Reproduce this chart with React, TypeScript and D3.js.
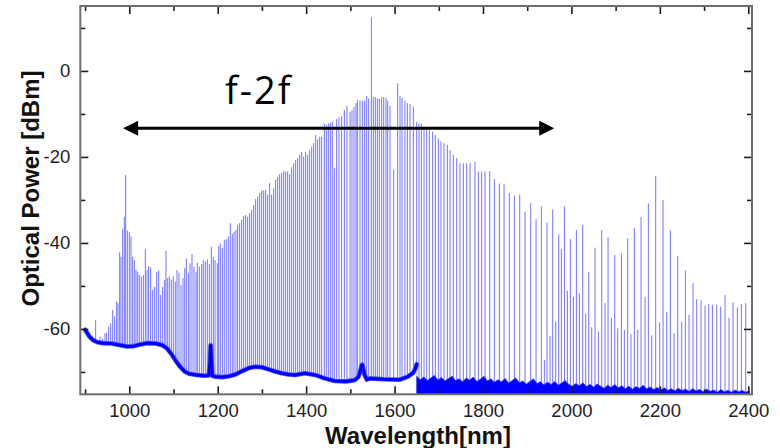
import React, { useEffect, useRef } from 'react';
import * as d3 from 'd3';

// Comb line wavelengths (nm) and their peak powers (dBm)
const combWavelength = [
  923.9, 933.7, 939.8, 945.1, 948.8, 953.3, 957.9, 962.4, 966.9, 971.4, 974.5, 978.2, 981.2, 985.0, 988.8, 991.8,
  995.6, 1000.1, 1003.9, 1007.6, 1011.4, 1015.2, 1019.0, 1022.7, 1027.2, 1031.8, 1036.3, 1040.1, 1043.8, 1048.3,
  1052.9, 1057.4, 1061.9, 1066.4, 1071.0, 1075.5, 1080.0, 1083.0, 1086.8, 1090.6, 1095.1, 1099.6, 1104.1, 1107.9,
  1112.4, 1117.0, 1121.5, 1125.3, 1129.0, 1133.6, 1137.3, 1141.8, 1146.4, 1150.9, 1153.9, 1158.4, 1163.7, 1167.5,
  1172.0, 1176.5, 1181.1, 1185.6, 1190.1, 1193.9, 1199.2, 1202.2,
  1205.9, 1210.4, 1214.9, 1219.4, 1224.0, 1228.5, 1233.0, 1236.8, 1241.3, 1245.1, 1249.6, 1254.1, 1258.6, 1263.2,
  1267.7, 1272.2, 1276.7, 1281.3, 1285.8, 1290.3, 1294.8, 1299.4, 1303.9, 1308.4, 1312.9, 1317.5, 1322.0, 1326.5,
  1331.0, 1335.6, 1340.1, 1344.6, 1349.1, 1353.6, 1358.2, 1362.7, 1367.2, 1371.7, 1376.3, 1380.8, 1385.3, 1389.8,
  1394.4, 1398.9, 1403.4, 1407.9, 1412.5, 1417.0, 1421.5, 1426.0, 1430.6, 1435.1, 1441.1, 1445.6, 1450.2, 1454.7,
  1459.2, 1463.7, 1469.0, 1474.3, 1480.3, 1486.4, 1492.4,
  1499.2, 1503.7, 1508.2, 1512.8, 1515.8, 1521.8, 1527.1, 1532.4, 1536.9, 1541.4, 1547.5, 1552.0, 1556.5, 1561.0,
  1565.5, 1570.8, 1575.4, 1580.6, 1584.4, 1589.7, 1598.0, 1607.0, 1612.3, 1616.8, 1623.6, 1628.9, 1634.9, 1642.5,
  1650.0, 1655.3, 1660.6, 1666.6, 1672.6, 1678.7, 1686.2, 1692.2, 1699.0, 1705.0, 1711.8, 1719.4, 1725.4, 1732.9,
  1740.5, 1748.0, 1755.6, 1763.1, 1770.6, 1782.0, 1789.5, 1797.0,
  1804.6, 1815.2, 1825.7, 1837.0, 1847.6, 1859.6, 1871.0, 1883.0, 1895.1, 1907.9, 1920.0, 1932.0, 1938.8, 1944.8,
  1951.6, 1957.7, 1964.4, 1971.2, 1977.3, 1984.1, 1990.8, 1997.6, 2004.4, 2011.2, 2018.0, 2025.5, 2032.3, 2039.1,
  2045.9, 2053.4, 2061.0, 2068.5, 2076.0, 2082.8, 2090.4, 2097.9, 2104.7, 2113.0,
  2119.7, 2127.3, 2134.8, 2142.3, 2149.9, 2157.4, 2166.5, 2174.0, 2181.5, 2190.6, 2199.6, 2207.2, 2215.5, 2223.8,
  2232.1, 2240.4, 2249.4, 2257.7, 2266.0, 2275.0, 2283.3, 2293.1, 2302.2, 2310.5, 2318.8, 2328.6, 2337.6, 2347.4,
  2356.5, 2365.5, 2375.3, 2384.4, 2394.2,
];
const combPower = [
  -57.9, -61.8, -62.2, -61.0, -60.9, -59.5, -58.7, -55.6, -57.1, -53.6, -54.0, -42.2, -43.2, -36.8, -33.9, -24.2,
  -37.1, -37.4, -38.5, -43.2, -44.0, -46.3, -46.7, -47.4, -47.8, -47.4, -41.5, -46.3, -45.4, -45.7,
  -50.9, -50.2, -46.7, -46.4, -52.1, -50.2, -48.6, -41.8, -48.2, -47.8, -48.5, -47.8, -49.0, -46.3,
  -46.9, -49.8, -48.2, -45.9, -43.6, -47.1, -44.7, -42.6, -45.5, -46.8, -44.6, -45.5, -44.9, -44.0,
  -44.3, -43.8, -44.9, -40.9, -43.3, -44.0, -44.7, -40.7,
  -40.1, -41.2, -39.3, -39.1, -38.5, -35.4, -37.9, -37.4, -37.0, -35.8, -35.4, -34.6, -33.7, -33.5,
  -33.9, -33.1, -32.3, -31.2, -29.8, -29.2, -28.4, -27.8, -27.8, -27.7, -28.8, -26.1, -28.8, -27.3,
  -25.3, -24.6, -24.0, -23.8, -23.4, -23.4, -23.4, -24.0, -22.4, -21.5, -20.7, -20.3, -19.5, -18.8,
  -19.9, -18.8, -19.5, -18.4, -17.6, -16.8, -14.9, -15.9, -15.3, -15.3, -12.2, -12.6, -12.2, -12.0,
  -11.8, -22.6, -11.2, -10.8, -10.5, -9.1, -8.1,
  -9.5, -9.1, -8.4, -7.5, -6.7, -6.9, -6.9, -6.9, -5.8, -6.4, 12.5, -6.0, -6.1, -6.4,
  -6.5, -6.1, -6.1, -6.2, -6.9, -8.1, -23.0, -2.9, -5.8, -6.3, -6.9, -7.5, -7.7, -8.3,
  -11.8, -12.2, -12.3, -13.0, -13.6, -13.7, -14.1, -14.9, -15.7, -16.4, -16.8, -17.2, -18.4, -19.5,
  -20.3, -21.5, -21.5, -21.5, -21.5, -21.1, -23.4, -23.4,
  -23.4, -23.3, -25.1, -26.2, -26.4, -28.4, -29.0, -28.8, -32.7, -30.8, -34.5, -31.5, -67.2, -35.3,
  -61.6, -32.2, -58.3, -38.0, -41.4, -31.5, -51.1, -39.1, -52.5, -37.0, -51.7, -35.8, -56.4, -46.8,
  -59.6, -41.1, -60.6, -37.0, -54.0, -38.7, -57.5, -42.8, -59.8, -42.4,
  -60.2, -38.9, -61.2, -36.6, -60.2, -34.0, -52.5, -30.8, -61.5, -24.4, -58.5, -30.0, -56.1, -37.1,
  -61.0, -43.0, -58.3, -46.4, -56.7, -49.4, -53.1, -53.3, -54.6, -54.2, -54.4, -54.4, -54.8, -52.1,
  -57.4, -53.8, -55.0, -54.2, -54.0,
];

// Noise floor of the first analyser (900-1650 nm)
const floorWavelength = [
  900, 904, 910, 918, 928, 940, 960, 980, 995, 1010, 1025, 1040, 1060, 1075, 1085, 1095, 1105, 1115, 1125, 1135,
  1152, 1170, 1180, 1182.5, 1184, 1185.5, 1188, 1195, 1210, 1225, 1240, 1255, 1270, 1285, 1300, 1315, 1330, 1345,
  1360, 1375, 1397, 1420, 1442, 1465, 1490, 1510, 1518, 1522, 1525, 1527, 1529, 1532, 1537, 1545, 1575, 1612,
  1630, 1642, 1647, 1650,
];
const floorPower = [
  -60.2, -60.8, -61.8, -62.6, -63.1, -63.3, -63.4, -63.8, -64.1, -64.0, -63.6, -63.3, -63.4, -63.8, -64.5, -65.8,
  -67.4, -68.8, -69.9, -70.4, -70.7, -70.9, -70.8, -67.5, -63.8, -66.5, -70.9, -71.1, -71.2, -71.0, -70.6, -69.8,
  -69.1, -68.8, -68.9, -69.4, -69.9, -70.3, -70.6, -70.7, -70.3, -70.7, -71.5, -72.1, -72.2, -71.9, -71.2, -70.0,
  -68.6, -68.3, -69.2, -70.6, -71.8, -71.5, -71.7, -71.8, -71.1, -70.2, -69.2, -68.2,
];

// Noise band of the second analyser (1650-2400 nm), top edge
const noiseWavelength = [
  1650, 1658, 1666, 1674, 1682, 1690, 1698, 1706, 1714, 1722, 1730, 1738, 1746, 1754, 1762, 1770, 1778, 1786,
  1794, 1802, 1810, 1818, 1826, 1834, 1842, 1850, 1858, 1866, 1874, 1882, 1890, 1898, 1906, 1914, 1922, 1930,
  1938, 1946, 1954, 1962, 1970, 1978, 1986, 1994, 2002, 2010, 2018, 2026, 2034, 2042, 2050, 2058, 2066, 2074,
  2082, 2090, 2098, 2106, 2114, 2122, 2130, 2138, 2146, 2154, 2162, 2170, 2178, 2186, 2194, 2202, 2210, 2218,
  2226, 2234, 2242, 2250, 2258, 2266, 2274, 2282, 2290, 2298, 2306, 2314, 2322, 2330, 2338, 2346, 2354, 2362,
  2370, 2378, 2386, 2394, 2402,
];
const noisePower = [
  -71.0, -71.8, -71.2, -72.0, -71.4, -70.8, -71.9, -71.3, -72.1, -71.5, -71.0, -72.0, -71.6, -72.3, -71.4, -71.9,
  -71.2, -72.2, -71.7, -71.0, -72.1, -71.6, -72.4, -71.8, -72.3, -71.5, -72.6, -72.0, -71.4, -72.5, -72.1, -72.8,
  -72.2, -71.6, -72.7, -72.3, -73.0, -72.4, -72.9, -72.2, -73.1, -72.6, -72.0, -72.9, -73.3, -72.7, -73.2, -72.5,
  -73.4, -72.9, -73.5, -72.8, -73.3, -73.8, -73.1, -73.6, -72.9, -73.7, -73.2, -73.9, -73.3, -74.0, -73.4, -73.8,
  -73.1, -73.9, -73.5, -74.1, -73.6, -74.2, -73.7, -74.3, -73.9, -74.4, -73.8, -74.3, -74.0, -74.5, -73.9, -74.4,
  -74.1, -74.6, -74.0, -74.5, -74.2, -74.7, -74.1, -74.6, -74.3, -74.7, -74.2, -74.6, -74.3, -74.7, -74.4,
];

const xMajorTicks = [1000, 1200, 1400, 1600, 1800, 2000, 2200, 2400];
const xMinorTicks = [900, 1100, 1300, 1500, 1700, 1900, 2100, 2300];
const yMajorTicks = [-60, -40, -20, 0];
const yMinorTicks = [-70, -50, -30, -10, 10];

const xTitle = 'Wavelength[nm]';
const yTitle = 'Optical Power [dBm]';
const annotationLabel = 'f-2f';
const arrowFromNm = 986;
const arrowToNm = 1961;
const arrowLevelDbm = -13.33;

export default function App() {
  const ref = useRef<SVGSVGElement>(null);

  useEffect(() => {
    const svg = d3.select(ref.current);
    svg.selectAll('*').remove();

    const L = 80.3, R = 752, T = 6, B = 394.3;
    const x = d3.scaleLinear().domain([889.2, 2408.4]).range([L, R]);
    const y = d3.scaleLinear().domain([-75.2, 15.1]).range([B, T]);

    svg.append('rect').attr('width', 780).attr('height', 448).attr('fill', '#ffffff');

    svg.append('defs').append('clipPath').attr('id', 'plotClip')
      .append('rect').attr('x', L).attr('y', T).attr('width', R - L).attr('height', B - T);

    const plot = svg.append('g').attr('clip-path', 'url(#plotClip)');

    // comb lines
    plot.append('g').selectAll('line').data(combWavelength).join('line')
      .attr('x1', (d) => x(d)).attr('x2', (d) => x(d))
      .attr('y1', B).attr('y2', (_d, i) => y(combPower[i]))
      .attr('stroke', '#0000ff').attr('stroke-opacity', 0.55).attr('stroke-width', 1);

    // white below the floor (first analyser)
    const below = d3.area<number>().x((d) => x(d)).y0(B).y1((_d, i) => y(floorPower[i]));
    plot.append('path').attr('d', below(floorWavelength)).attr('fill', '#ffffff');

    // floor line
    const floorLine = d3.line<number>().x((d) => x(d)).y((_d, i) => y(floorPower[i]));
    plot.append('path').attr('d', floorLine(floorWavelength))
      .attr('fill', 'none').attr('stroke', '#4d4dff').attr('stroke-width', 4.6)
      .attr('stroke-linejoin', 'round').attr('stroke-linecap', 'round');
    plot.append('path').attr('d', floorLine(floorWavelength))
      .attr('fill', 'none').attr('stroke', '#0000ff').attr('stroke-width', 3)
      .attr('stroke-linejoin', 'round').attr('stroke-linecap', 'round');

    // noise band
    const band = d3.area<number>().x((d) => x(d)).y0(B).y1((_d, i) => y(noisePower[i]));
    plot.append('path').attr('d', band(noiseWavelength)).attr('fill', '#0000ff')
      .attr('stroke', '#3a3aff').attr('stroke-width', 0.8);

    // axes
    const font = '"Liberation Sans", Arial, Helvetica, sans-serif';
    const styleAxis = (g: any) => {
      g.select('.domain').remove();
      g.attr('font-family', null).attr('font-size', null);
      g.selectAll('.tick line').attr('stroke', '#1e1e1e').attr('stroke-width', 1.6);
      g.selectAll('.tick text').attr('fill', '#1e1e1e').attr('font-family', font).attr('font-size', 18.5);
    };
    const fmt = (d: any) => String(d);
    const none = () => '';

    svg.append('g').attr('transform', `translate(0,${B})`)
      .call(d3.axisBottom(x).tickValues(xMajorTicks).tickSize(-8).tickPadding(9.2).tickFormat(fmt)).call(styleAxis);
    svg.append('g').attr('transform', `translate(0,${B})`)
      .call(d3.axisBottom(x).tickValues(xMinorTicks).tickSize(-5).tickFormat(none)).call(styleAxis);
    svg.append('g').attr('transform', `translate(0,${T})`)
      .call(d3.axisTop(x).tickValues(xMajorTicks).tickSize(-8).tickFormat(none)).call(styleAxis);
    svg.append('g').attr('transform', `translate(0,${T})`)
      .call(d3.axisTop(x).tickValues(xMinorTicks).tickSize(-5).tickFormat(none)).call(styleAxis);

    svg.append('g').attr('transform', `translate(${L},0)`)
      .call(d3.axisLeft(y).tickValues(yMajorTicks).tickSize(-8).tickPadding(10).tickFormat(fmt)).call(styleAxis);
    svg.append('g').attr('transform', `translate(${L},0)`)
      .call(d3.axisLeft(y).tickValues(yMinorTicks).tickSize(-5).tickFormat(none)).call(styleAxis);
    svg.append('g').attr('transform', `translate(${R},0)`)
      .call(d3.axisRight(y).tickValues(yMajorTicks).tickSize(-8).tickFormat(none)).call(styleAxis);
    svg.append('g').attr('transform', `translate(${R},0)`)
      .call(d3.axisRight(y).tickValues(yMinorTicks).tickSize(-5).tickFormat(none)).call(styleAxis);

    // frame
    svg.append('rect').attr('x', L).attr('y', T).attr('width', R - L).attr('height', B - T)
      .attr('fill', 'none').attr('stroke', '#6e6e6e').attr('stroke-width', 2);

    // titles
    svg.append('text').attr('x', 418).attr('y', 443.5).attr('text-anchor', 'middle')
      .attr('font-family', font).attr('font-weight', 'bold').attr('font-size', 24).attr('fill', '#111')
      .text(xTitle);
    svg.append('text').attr('transform', 'translate(39,188.5) rotate(-90)').attr('text-anchor', 'middle')
      .attr('font-family', font).attr('font-weight', 'bold').attr('font-size', 24).attr('fill', '#111')
      .text(yTitle);

    // annotation arrow
    const ay = y(arrowLevelDbm);
    const ax1 = x(arrowFromNm);
    const ax2 = x(arrowToNm);
    const headL = 15, headW = 7.5;
    svg.append('line').attr('x1', ax1 + 4).attr('x2', ax2 - 4).attr('y1', ay).attr('y2', ay)
      .attr('stroke', '#000').attr('stroke-width', 2.8);
    svg.append('path').attr('d', `M${ax1},${ay}L${ax1 + headL},${ay - headW}L${ax1 + headL},${ay + headW}Z`).attr('fill', '#000');
    svg.append('path').attr('d', `M${ax2},${ay}L${ax2 - headL},${ay - headW}L${ax2 - headL},${ay + headW}Z`).attr('fill', '#000');

    svg.append('text').attr('x', 225).attr('y', 103.5)
      .attr('font-family', '"Open Sans", "Noto Sans", sans-serif').attr('font-size', 38)
      .attr('letter-spacing', 2).attr('fill', '#000').text(annotationLabel);
  }, []);

  return (
    <svg ref={ref} width={780} height={448}
      style={{ position: 'absolute', left: 0, top: 0, display: 'block' }} />
  );
}
